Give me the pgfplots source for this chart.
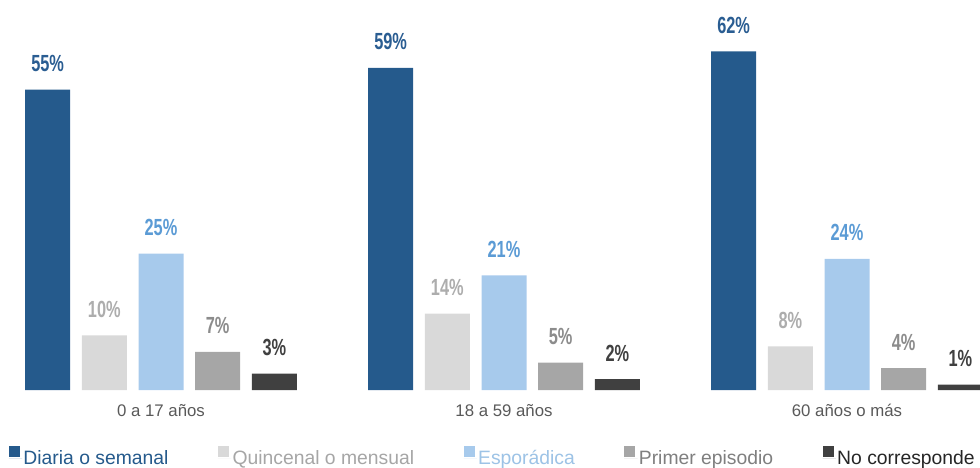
\documentclass[border=0pt]{standalone}
\usepackage{pgfplots}
\pgfplotsset{compat=1.18}
\usepackage{fontspec}
\setmainfont{Liberation Sans}
\newfontfamily\condfont[FakeStretch=0.7]{Liberation Sans}
\definecolor{c1}{HTML}{255A8C}
\definecolor{c2}{HTML}{D9D9D9}
\definecolor{c3}{HTML}{A7CAEC}
\definecolor{c4}{HTML}{A6A6A6}
\definecolor{c5}{HTML}{404040}
\definecolor{t1}{HTML}{2A5D92}
\definecolor{t2}{HTML}{ADADAD}
\definecolor{t3}{HTML}{5B9BD5}
\definecolor{t4}{HTML}{8C8C8C}
\definecolor{t5}{HTML}{404040}
\definecolor{l1}{HTML}{255A8C}
\definecolor{l2}{HTML}{A6A6A6}
\definecolor{l3}{HTML}{9DC3E6}
\definecolor{l4}{HTML}{7F7F7F}
\definecolor{l5}{HTML}{262626}
\definecolor{tickgray}{HTML}{595959}
\begin{document}
\begin{tikzpicture}
\begin{axis}[
  scale only axis, width=735pt, height=292.5pt,
  xmin=-0.4694, xmax=2.3878, ymin=0, ymax=71.43,
  ybar=8.75pt, bar width=33.75pt,
  axis line style={draw=none},
  ytick=\empty, xtick={0,1,2},
  xticklabels={0 a 17 años, 18 a 59 años, 60 años o más},
  major tick length=0pt,
  xticklabel style={font=\fontsize{12.6}{15}\selectfont, text=tickgray, anchor=base, yshift=-19.5pt},
  nodes near coords={\pgfmathprintnumber[assume math mode=true]{\pgfplotspointmeta}\%},
  every node near coord/.append style={font=\condfont\bfseries\fontsize{17.5}{20}\selectfont, anchor=base, yshift=13.5pt, inner sep=0pt},
  legend columns=5,
  legend style={draw=none, at={(0.5025,-0.1718)}, anchor=center,
    font=\fontsize{14.5}{17}\selectfont,
    /tikz/every even column/.append style={column sep=36pt},
    nodes={inner sep=1pt}},
]
\addplot[fill=c1, draw=none, every node near coord/.append style={text=t1},
  legend image code/.code={\fill[c1] (0pt,0.5pt) rectangle (8.25pt,8.75pt);\path (0pt,0pt) -- (10pt,0pt);}]
  coordinates {(0,55) (1,59) (2,62)};
\addlegendentry{\textcolor{l1}{Diaria o semanal}}
\addplot[fill=c2, draw=none, every node near coord/.append style={text=t2},
  legend image code/.code={\fill[c2] (0pt,0.5pt) rectangle (8.25pt,8.75pt);\path (0pt,0pt) -- (10pt,0pt);}]
  coordinates {(0,10) (1,14) (2,8)};
\addlegendentry{\textcolor{l2}{Quincenal o mensual}}
\addplot[fill=c3, draw=none, every node near coord/.append style={text=t3},
  legend image code/.code={\fill[c3] (0pt,0.5pt) rectangle (8.25pt,8.75pt);\path (0pt,0pt) -- (10pt,0pt);}]
  coordinates {(0,25) (1,21) (2,24)};
\addlegendentry{\textcolor{l3}{Esporádica}}
\addplot[fill=c4, draw=none, every node near coord/.append style={text=t4},
  legend image code/.code={\fill[c4] (0pt,0.5pt) rectangle (8.25pt,8.75pt);\path (0pt,0pt) -- (10pt,0pt);}]
  coordinates {(0,7) (1,5) (2,4)};
\addlegendentry{\textcolor{l4}{Primer episodio}}
\addplot[fill=c5, draw=none, every node near coord/.append style={text=t5},
  legend image code/.code={\fill[c5] (0pt,0.5pt) rectangle (8.25pt,8.75pt);\path (0pt,0pt) -- (10pt,0pt);}]
  coordinates {(0,3) (1,2) (2,1)};
\addlegendentry{\textcolor{l5}{No corresponde}}
\coordinate (bl) at (rel axis cs:0,0);
\coordinate (tr) at (rel axis cs:1,1);
\end{axis}
\pgfresetboundingbox
\useasboundingbox ([yshift=-57.75pt]bl) rectangle (tr);
\end{tikzpicture}
\end{document}
